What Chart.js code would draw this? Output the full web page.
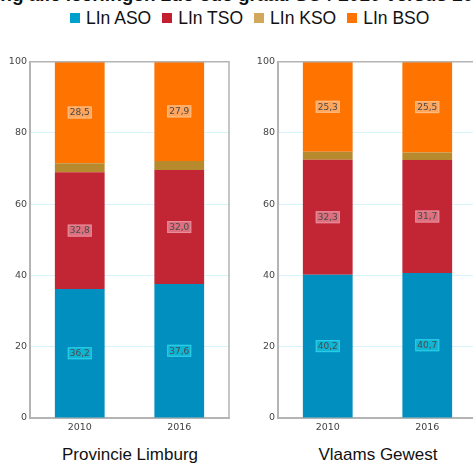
<!DOCTYPE html>
<html>
<head>
<meta charset="utf-8">
<script src="https://cdn.jsdelivr.net/npm/chart.js@4/dist/chart.umd.min.js"></script>
<style>
  html, body { margin: 0; padding: 0; background: #fff; }
  body { width: 473px; height: 463px; position: relative; overflow: hidden; font-family: "Liberation Sans", Arial, sans-serif; }
  .title { position: absolute; left: -62px; top: -16px; white-space: nowrap; font-weight: bold; font-size: 19px; color: #111; }
  .legend { position: absolute; left: 70px; top: 8px; font-size: 17.5px; color: #111; white-space: nowrap; }
  .legend span.item { display: inline-block; margin-right: 11px; }
  .legend i { display: inline-block; width: 10px; height: 10px; margin-right: 6px; vertical-align: 1px; }
  .box { position: absolute; top: 53px; width: 240px; height: 387px; }
  .caption { position: absolute; top: 445px; font-size: 17px; color: #111; text-align: center; width: 200px; }
</style>
</head>
<body>
<div class="title">Verdeling alle leerlingen 2de-3de graad SO / 2010 versus 2016</div>
<div class="legend" id="legend"></div>
<div class="box" style="left:0"><canvas id="chartLimburg"></canvas></div>
<div class="box" style="left:248px"><canvas id="chartVlaanderen"></canvas></div>
<div class="caption" style="left:30px">Provincie Limburg</div>
<div class="caption" style="left:278px">Vlaams Gewest</div>

<script>
// Data
const years = ['2010', '2016'];
const seriesNames = ['LIn ASO', 'LIn TSO', 'LIn KSO', 'LIn BSO'];
const limburgASO = [36.2, 37.6];
const limburgTSO = [32.8, 32.0];
const limburgKSO = [2.5, 2.5];
const limburgBSO = [28.5, 27.9];
const vlaanderenASO = [40.2, 40.7];
const vlaanderenTSO = [32.3, 31.7];
const vlaanderenKSO = [2.2, 2.1];
const vlaanderenBSO = [25.3, 25.5];
const yTicks = [0, 20, 40, 60, 80, 100];

const barColors = ['#008fbf', '#c22634', '#b88a2e', '#ff7300'];
const legendColors = ['#00a0cc', '#c41f30', '#d2a85c', '#ff7300'];
const labelBoxColors = ['#10b4d4', '#dd6f7e', null, '#ffa55c'];
const labelBorderColors = ['#30d0ea', '#ea8e9b', null, '#ffbf85'];

// Legend
document.getElementById('legend').innerHTML = seriesNames.map((name, i) =>
  `<span class="item"><i style="background:${legendColors[i]}"></i>${name}</span>`
).join('');

// Value labels in a small box at the middle of each segment
const valueLabels = {
  id: 'valueLabels',
  afterDatasetsDraw(chart) {
    const ctx = chart.ctx;
    ctx.save();
    ctx.font = '9px "DejaVu Sans", sans-serif';
    ctx.textAlign = 'center';
    ctx.textBaseline = 'middle';
    chart.data.datasets.forEach((ds, di) => {
      if (!labelBoxColors[di]) return;
      chart.getDatasetMeta(di).data.forEach((bar, i) => {
        const text = ds.data[i].toFixed(1).replace('.', ',');
        const cx = bar.x;
        const cy = (bar.y + bar.base) / 2;
        const w = ctx.measureText(text).width + 4;
        const h = 12;
        ctx.fillStyle = labelBoxColors[di];
        ctx.fillRect(cx - w / 2, cy - h / 2, w, h);
        ctx.strokeStyle = labelBorderColors[di];
        ctx.lineWidth = 1;
        ctx.strokeRect(cx - w / 2 + 0.5, cy - h / 2 + 0.5, w - 1, h - 1);
        ctx.fillStyle = '#4a4a4a';
        ctx.fillText(text, cx, cy + 0.5);
      });
    });
    ctx.restore();
  }
};

// Thin frame on top and right of the plot
const plotFrame = {
  id: 'plotFrame',
  afterDraw(chart) {
    const a = chart.chartArea;
    const ctx = chart.ctx;
    ctx.save();
    ctx.strokeStyle = '#b4b4b4';
    ctx.lineWidth = 1.5;
    ctx.beginPath();
    ctx.moveTo(a.left, a.top);
    ctx.lineTo(a.right, a.top);
    ctx.lineTo(a.right, a.bottom);
    ctx.stroke();
    ctx.restore();
  }
};

function makeChart(id, aso, tso, kso, bso) {
  const values = [aso, tso, kso, bso];
  return new Chart(document.getElementById(id), {
    type: 'bar',
    data: {
      labels: years,
      datasets: values.map((v, i) => ({
        label: seriesNames[i],
        data: v,
        backgroundColor: barColors[i],
        borderWidth: 0,
        barPercentage: 0.5,
        categoryPercentage: 1
      }))
    },
    options: {
      responsive: true,
      maintainAspectRatio: false,
      animation: false,
      layout: { padding: { top: 4, right: 11, left: 0, bottom: 0 } },
      plugins: {
        legend: { display: false },
        tooltip: { enabled: false }
      },
      scales: {
        x: {
          stacked: true,
          grid: { display: false, drawTicks: false },
          border: { color: '#b4b4b4', width: 2 },
          ticks: { color: '#444', font: { family: 'DejaVu Sans', size: 9.5 }, padding: 4 },
          afterFit(scale) { scale.height = 22; }
        },
        y: {
          stacked: true,
          min: 0,
          max: 100,
          afterBuildTicks(scale) { scale.ticks = yTicks.map(v => ({ value: v })); },
          grid: { color: '#d6f4fa', drawTicks: false },
          border: { color: '#b4b4b4', width: 2 },
          ticks: { color: '#444', font: { family: 'DejaVu Sans', size: 9.5 }, padding: 3 },
          afterFit(scale) { scale.width = 30; }
        }
      }
    },
    plugins: [plotFrame, valueLabels]
  });
}

makeChart('chartLimburg', limburgASO, limburgTSO, limburgKSO, limburgBSO);
makeChart('chartVlaanderen', vlaanderenASO, vlaanderenTSO, vlaanderenKSO, vlaanderenBSO);
</script>
</body>
</html>
